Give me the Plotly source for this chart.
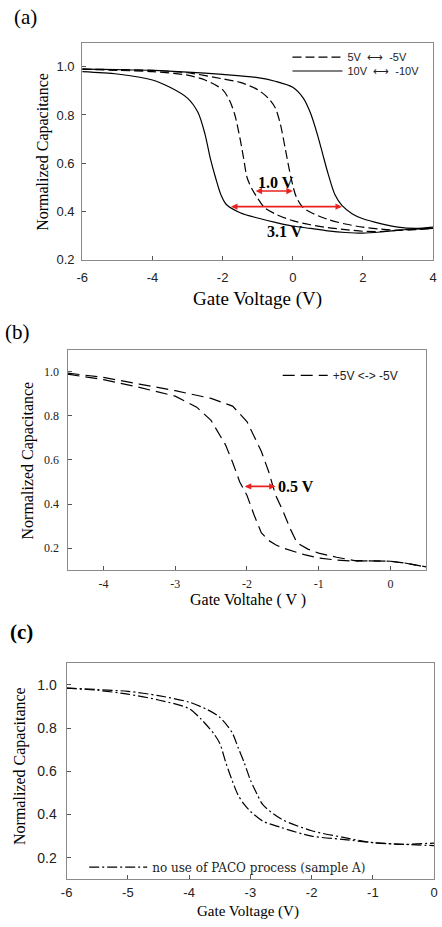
import plotly.graph_objects as go

W, H = 442, 927

# ---------- Panel (a) data ----------
a_x_sol_left = [-6, -5, -4, -3.5, -3, -2.7, -2.5, -2.35, -2.2, -2.05, -1.9, -1.5, -1, -0.5, 0, 0.5, 1, 1.5, 2, 2.5, 3, 3.5, 4]
a_y_sol_left = [0.98, 0.97, 0.945, 0.915, 0.87, 0.81, 0.72, 0.62, 0.54, 0.47, 0.43, 0.395, 0.373, 0.355, 0.34, 0.33, 0.32, 0.313, 0.31, 0.315, 0.323, 0.327, 0.33]
a_x_sol_right = [-6, -5, -4, -3, -2, -1, -0.5, 0, 0.3, 0.5, 0.7, 0.85, 1.0, 1.2, 1.4, 1.7, 2, 2.5, 3, 3.5, 4]
a_y_sol_right = [0.99, 0.988, 0.985, 0.978, 0.968, 0.955, 0.94, 0.915, 0.87, 0.81, 0.72, 0.64, 0.56, 0.47, 0.425, 0.39, 0.37, 0.35, 0.335, 0.33, 0.335]
a_x_dash_left = [-6, -5, -4, -3, -2.5, -2, -1.8, -1.65, -1.5, -1.4, -1.3, -1.15, -1.0, -0.8, -0.5, 0, 0.5, 1, 1.5, 2, 2.5, 3, 3.5, 4]
a_y_dash_left = [0.99, 0.985, 0.98, 0.965, 0.945, 0.905, 0.86, 0.8, 0.7, 0.62, 0.54, 0.49, 0.455, 0.415, 0.39, 0.362, 0.345, 0.333, 0.325, 0.318, 0.317, 0.322, 0.328, 0.33]
a_x_dash_right = [-6, -5, -4, -3, -2, -1.5, -1, -0.7, -0.5, -0.35, -0.2, -0.05, 0.1, 0.3, 0.6, 1, 1.5, 2, 2.5, 3, 3.5, 4]
a_y_dash_right = [0.99, 0.988, 0.985, 0.975, 0.95, 0.935, 0.905, 0.87, 0.83, 0.76, 0.65, 0.54, 0.46, 0.415, 0.39, 0.367, 0.348, 0.335, 0.327, 0.322, 0.325, 0.33]
a_arrows = [(-1.1, 0.0, 0.485), (-1.8, 1.4, 0.42)]
a_labels = [("1.0 V", -0.47, 0.52), ("3.1 V", -0.22, 0.315)]
a_xticks = [-6, -4, -2, 0, 2, 4]
a_xtext = ["-6", "-4", "-2", "0", "2", "4"]
a_yticks = [0.2, 0.4, 0.6, 0.8, 1.0]
a_ytext = ["0.2", "0.4", "0.6", "0.8", "1.0"]

# ---------- Panel (b) data ----------
b_x_upper = [-4.5, -4, -3.5, -3, -2.5, -2.2, -2.0, -1.8, -1.7, -1.6, -1.5, -1.4, -1.3, -1.15, -1.0, -0.75, -0.5, -0.25, 0, 0.2, 0.4, 0.5]
b_y_upper = [0.995, 0.975, 0.945, 0.915, 0.88, 0.845, 0.775, 0.64, 0.55, 0.44, 0.37, 0.29, 0.223, 0.195, 0.177, 0.158, 0.143, 0.142, 0.14, 0.132, 0.12, 0.114]
b_x_lower = [-4.5, -4, -3.5, -3, -2.7, -2.5, -2.3, -2.2, -2.1, -2.0, -1.9, -1.8, -1.7, -1.6, -1.5, -1.2, -1.0, -0.75, -0.5, -0.25, 0, 0.2, 0.4, 0.5]
b_y_lower = [0.99, 0.965, 0.93, 0.89, 0.84, 0.78, 0.67, 0.59, 0.5, 0.44, 0.35, 0.27, 0.235, 0.215, 0.2, 0.17, 0.155, 0.145, 0.14, 0.142, 0.14, 0.132, 0.12, 0.112]
b_arrows = [(-2.05, -1.6, 0.48)]
b_labels = [("0.5 V", -1.31, 0.48)]
b_xticks = [-4, -3, -2, -1, 0]
b_xtext = ["-4", "-3", "-2", "-1", "0"]
b_yticks = [0.2, 0.4, 0.6, 0.8, 1.0]
b_ytext = ["0.2", "0.4", "0.6", "0.8", "1.0"]

# ---------- Panel (c) data ----------
c_x_upper = [-6, -5.5, -5, -4.5, -4, -3.7, -3.5, -3.3, -3.2, -3.1, -3.0, -2.9, -2.8, -2.5, -2, -1.5, -1, -0.5, 0]
c_y_upper = [0.985, 0.978, 0.97, 0.95, 0.92, 0.885, 0.85, 0.78, 0.71, 0.64, 0.56, 0.5, 0.447, 0.38, 0.325, 0.295, 0.27, 0.262, 0.268]
c_x_lower = [-6, -5.5, -5, -4.5, -4, -3.8, -3.6, -3.5, -3.4, -3.3, -3.2, -3.1, -3.0, -2.8, -2.5, -2, -1.5, -1, -0.5, 0]
c_y_lower = [0.985, 0.975, 0.957, 0.93, 0.89, 0.84, 0.775, 0.73, 0.64, 0.56, 0.49, 0.447, 0.415, 0.37, 0.34, 0.3, 0.285, 0.27, 0.262, 0.256]
c_xticks = [-6, -5, -4, -3, -2, -1, 0]
c_xtext = ["-6", "-5", "-4", "-3", "-2", "-1", "0"]
c_yticks = [0.2, 0.4, 0.6, 0.8, 1.0]
c_ytext = ["0.2", "0.4", "0.6", "0.8", "1.0"]

SERIF = "Liberation Serif, Times New Roman, serif"
WSERIF = "DejaVu Serif, serif"
SANS = "Liberation Sans, Arial, sans-serif"
BORDER = "#8a8a8a"

fig = go.Figure()

def line(x, y, xa, ya, dash, name, legend, show, shape="spline", width=1.2):
    fig.add_trace(go.Scatter(
        x=x, y=y, xaxis=xa, yaxis=ya, mode="lines", name=name,
        line=dict(color="black", width=width, dash=dash, shape=shape, smoothing=0.8),
        legend=legend, showlegend=show, hoverinfo="skip"))

DA = "9px,4px"
line(a_x_dash_left, a_y_dash_left, "x", "y", DA, "5V  \u27f7  -5V", "legend", True)
line(a_x_dash_right, a_y_dash_right, "x", "y", DA, "5V", "legend", False)
line(a_x_sol_left, a_y_sol_left, "x", "y", "solid", "10V  \u27f7  -10V", "legend4", True)
line(a_x_sol_right, a_y_sol_right, "x", "y", "solid", "10V", "legend4", False)

DB = "12px,6px"
line(b_x_upper, b_y_upper, "x2", "y2", DB, "+5V <-> -5V", "legend2", True, shape="linear")
line(b_x_lower, b_y_lower, "x2", "y2", DB, "b", "legend2", False, shape="linear")

DC = "10px,3px,2px,3px"
line(c_x_upper, c_y_upper, "x3", "y3", DC, "no use of PACO process (sample A)", "legend3", True)
line(c_x_lower, c_y_lower, "x3", "y3", DC, "c", "legend3", False)

def px_dom_x(a, b):
    return [a / W, b / W]

def px_dom_y(top, bot):
    return [1 - bot / H, 1 - top / H]

def axis(dom, rng, ticks, text, fontfam, fsize, anchor, standoff):
    return dict(domain=dom, range=rng, tickvals=ticks, ticktext=text, showgrid=False, zeroline=False,
                showline=True, linecolor=BORDER, linewidth=1.2, mirror=True,
                ticks="inside", ticklen=4, tickcolor="#555", tickwidth=1,
                ticklabelstandoff=standoff,
                tickfont=dict(family=fontfam, size=fsize, color="#222"), anchor=anchor)

def leg(x, y, fam, size, iw):
    return dict(x=x / W, y=1 - y / H, xanchor="left", yanchor="top", itemwidth=iw,
                bgcolor="rgba(0,0,0,0)", font=dict(family=fam, size=size, color="#222"))

layout = dict(
    width=W, height=H, margin=dict(l=0, r=0, t=0, b=0),
    paper_bgcolor="white", plot_bgcolor="white",
    xaxis=axis(px_dom_x(78, 437), [-6, 4], a_xticks, a_xtext, SANS, 13, "y", 6),
    yaxis=axis(px_dom_y(43, 262), [0.2, 1.1], a_yticks, a_ytext, SANS, 13, "x", 4),
    xaxis2=axis(px_dom_x(63, 430), [-4.5, 0.5], b_xticks, b_xtext, SERIF, 12, "y2", 2),
    yaxis2=axis(px_dom_y(353, 575), [0.1, 1.1], b_yticks, b_ytext, SERIF, 12, "x2", 5),
    xaxis3=axis(px_dom_x(62, 438), [-6, 0], c_xticks, c_xtext, SANS, 13, "y3", 1),
    yaxis3=axis(px_dom_y(669, 887), [0.1, 1.1], c_yticks, c_ytext, SANS, 14, "x3", 6),
    legend=leg(288, 43, SANS, 11, 50),
    legend4=leg(288, 57, SANS, 11, 50),
    legend2=leg(278, 364, SANS, 12, 45),
    legend3=leg(80, 860, WSERIF, 12, 58),
    showlegend=True,
)
fig.update_layout(**layout)

ann = []
def txt(t, x, y, size, bold=False, angle=0, fam=SERIF):
    ann.append(dict(text=f"<b>{t}</b>" if bold else t, x=x / W, y=1 - y / H, xref="paper", yref="paper",
                    showarrow=False, xanchor="center", yanchor="middle", textangle=angle,
                    font=dict(family=fam, size=size, color="black")))

txt("(a)", 20, 17, 21)
txt("(b)", 12, 335, 21)
txt("(c)", 16, 638, 21, bold=True)
txt("Gate Voltage (V)", 257, 302, 19)
txt("Normalized Capacitance", 38, 153, 16, angle=-90)
txt("Gate Voltahe ( V )", 248, 605, 16)
txt("Normalized Capacitance", 23, 464, 16, angle=-90)
txt("Gate Voltage (V)", 248, 919, 15)
txt("Normalized Capacitance", 15, 773, 16, angle=-90)

def arrows(lst, xr, yr):
    for x0, x1, yv in lst:
        ann.append(dict(x=x1, y=yv, ax=x0, ay=yv, xref=xr, yref=yr, axref=xr, ayref=yr,
                        showarrow=True, arrowhead=2, arrowside="end+start", arrowsize=0.8,
                        arrowwidth=1.6, arrowcolor="#e8231f", text=""))

def labels(lst, xr, yr, size):
    for t, x, yv in lst:
        ann.append(dict(x=x, y=yv, xref=xr, yref=yr, text=f"<b>{t}</b>", showarrow=False,
                        font=dict(family=SERIF, size=size, color="black")))

arrows(a_arrows, "x", "y")
labels(a_labels, "x", "y", 16)
arrows(b_arrows, "x2", "y2")
labels(b_labels, "x2", "y2", 16)

fig.update_layout(annotations=ann)
fig.write_html("out.html")
